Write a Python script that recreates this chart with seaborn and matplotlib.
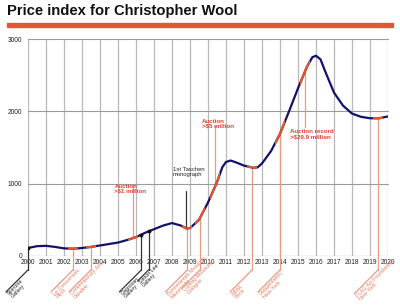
import numpy as np
import pandas as pd
import matplotlib
matplotlib.use("Agg")
import matplotlib.pyplot as plt
from matplotlib.patches import Rectangle
import seaborn as sns

# ---------------- data ----------------
years = [2000.0, 2000.5, 2001.0, 2001.5, 2002.0, 2002.5, 2003.0, 2003.5, 2004.0, 2004.5,
         2005.0, 2005.5, 2006.0, 2006.5, 2007.0, 2007.5, 2008.0, 2008.5, 2008.8, 2009.0,
         2009.5, 2010.0, 2010.5, 2010.8, 2011.0, 2011.25, 2011.5, 2012.0, 2012.5, 2012.75,
         2013.0, 2013.5, 2014.0, 2014.5, 2015.0, 2015.5, 2015.8, 2016.0, 2016.25, 2016.5,
         2017.0, 2017.5, 2018.0, 2018.5, 2019.0, 2019.5, 2020.0]
index_values = [110, 135, 140, 125, 105, 100, 110, 125, 145, 165,
                185, 220, 260, 320, 370, 420, 455, 420, 380, 385,
                500, 740, 1020, 1230, 1300, 1320, 1300, 1250, 1220, 1225,
                1280, 1450, 1690, 2000, 2320, 2620, 2750, 2770, 2720, 2560,
                2260, 2080, 1970, 1925, 1905, 1905, 1930]

# exhibitions shown below the axis
exhibit_years = [2000.0, 2002.5, 2003.5, 2006.3, 2006.7, 2008.85, 2009.55, 2012.45, 2014.0, 2019.45]
exhibit_labels = ["Sperone\nGallery", "Le Consortium,\nDijon", "Contemporary Arts,\nDundee",
                  "Gagosian\nGallery", "Simon Lee\nGallery", "Bonnefanten Museum,\nMaastricht",
                  "Ludwig Museum,\nCologne", "MAM,\nParis", "Guggenheim,\nNew York",
                  "FLAG Art Foundation,\nNew York"]
exhibit_is_museum = [False, True, True, False, False, True, True, True, True, True]

# auction events shown above the curve
auction_years = [2005.85, 2010.4, 2015.4]
auction_labels = ["Auction\n>$1 million", "Auction\n>$5 million", "Auction record\n>$29.9 million"]

taschen_year = 2008.75
taschen_label = "1st Taschen\nmonograph"

year_ticks = list(range(2000, 2021))
value_ticks = [0, 1000, 2000, 3000]

# ---------------- style ----------------
NAVY = "#12126a"
HILITE = "#e4572e"
SALMON = "#e99a86"
SALMON_TXT = "#e07f66"
RED_TXT = "#e0402a"
DARK = "#222222"

sns.set_theme(style="white")
plt.rcParams['font.family'] = ['Liberation Sans', 'DejaVu Sans']

fig = plt.figure(figsize=(4, 3.08), dpi=100)
ax = fig.add_axes([0.07, 0.169, 0.90, 0.704])

ax.set_xlim(2000, 2020)
ax.set_ylim(0, 3000)
for s in ax.spines.values():
    s.set_visible(False)

# grid
for yr in year_ticks:
    ax.axvline(yr, color="#b8b8b8", lw=0.9, zorder=1)
for v in value_ticks[1:]:
    ax.axhline(v, color="#9a9a9a", lw=0.8, zorder=1, clip_on=False)
ax.axhline(0, color="#333333", lw=0.8, zorder=2)

ax.set_xticks(year_ticks)
ax.set_xticklabels([str(y) for y in year_ticks], fontsize=4.8, color=DARK)
ax.set_yticks(value_ticks)
ax.set_yticklabels([str(v) for v in value_ticks], fontsize=4.8, color=DARK)
ax.tick_params(axis="x", length=1.6, width=1.6, direction="inout", pad=1.5, color="#111111")
ax.tick_params(axis="y", length=0, pad=4)

df = pd.DataFrame({"year": years, "index": index_values})

# main curve
sns.lineplot(data=df, x="year", y="index", ax=ax, color=NAVY, lw=1.6, zorder=5)

# highlight segments on the curve
hl_years = [e for e, m in zip(exhibit_years, exhibit_is_museum) if m] + auction_years
for e in hl_years:
    sns.lineplot(data=df, x="year", y="index", ax=ax, color=HILITE, lw=1.6, zorder=6)
    ln = ax.lines[-1]
    ln.set_clip_path(Rectangle((e - 0.28, -1000), 0.56, 5000, transform=ax.transData))

ax.set_xlabel("")
ax.set_ylabel("")

# layout for the leader lines below the axis (pixel-based lengths)
PX_X = 1 / 18.0       # years per pixel
PX_Y = 3000 / 217.0   # index units per pixel
V_END = -14 * PX_Y
diag_px = [22, 22, 22, 22, 11, 22, 18, 22, 22, 24]

for e, lab, m, dp in zip(exhibit_years, exhibit_labels, exhibit_is_museum, diag_px):
    c = SALMON if m else "#333333"
    tc = SALMON_TXT if m else DARK
    yv = np.interp(e, years, index_values)
    x1, y1 = e - dp * PX_X, V_END - dp * PX_Y
    ax.plot([e, e], [yv, V_END], color=c, lw=0.9, clip_on=False, zorder=4)
    ax.plot([e, x1], [V_END, y1], color=c, lw=0.9, clip_on=False, zorder=4)
    ax.text(x1 + 0.5 * PX_X, y1 - 0.5 * PX_Y, lab, rotation=45, rotation_mode="anchor",
            ha="left", va="top", fontsize=3.9, color=tc, linespacing=1.0)
    if not m:
        ax.plot([e], [yv], marker="o", ms=1.8, color="#111111", zorder=7)

# auction annotations
auction_text_pos = [(2004.8, 1000), (2009.65, 1900), (2014.55, 1750)]
auction_line_start = [980, 1800, 1790]
for e, lab, (tx, ty), ls in zip(auction_years, auction_labels, auction_text_pos, auction_line_start):
    yv = np.interp(e, years, index_values)
    ax.plot([e, e], [ls, yv], color=SALMON, lw=0.9, zorder=4)
    ax.text(tx, ty, lab, ha="left", va="top", fontsize=4.4, color=RED_TXT,
            fontweight="bold", linespacing=1.05, zorder=8)

# Taschen annotation
yv = np.interp(taschen_year, years, index_values)
ax.plot([taschen_year, taschen_year], [900, yv], color="#333333", lw=0.9, zorder=4)
ax.text(2008.05, 1230, taschen_label, ha="left", va="top", fontsize=4.2, color=DARK,
        linespacing=1.05, zorder=8)

# title and bar
fig.text(0.018, 0.963, "Price index for Christopher Wool", fontsize=10.6, fontweight="bold",
         va="center", ha="left", color="#111111")
fig.add_artist(Rectangle((0.018, 1 - 26.5 / 308), 0.965, 3.2 / 308, color="#e0573a",
                         transform=fig.transFigure))

fig.savefig("out.png", dpi=100)
